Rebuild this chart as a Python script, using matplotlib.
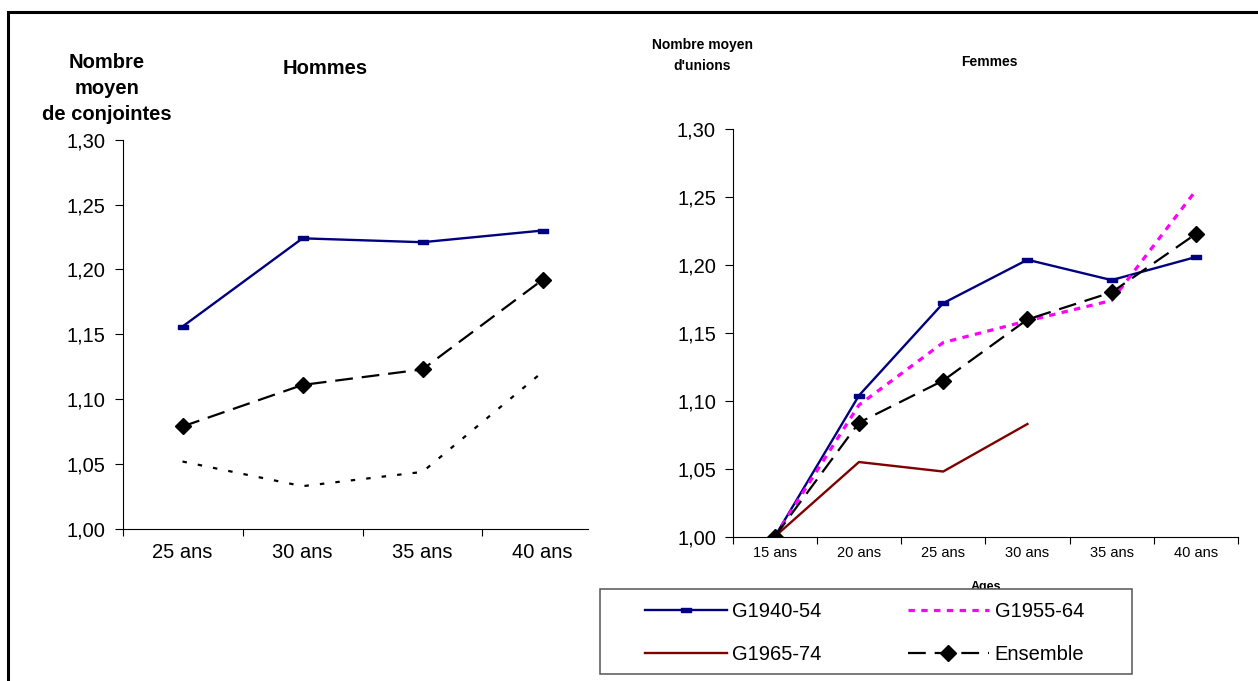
import matplotlib
matplotlib.use("Agg")
import matplotlib.pyplot as plt
from matplotlib.patches import Rectangle
from matplotlib.ticker import FuncFormatter, FixedLocator
import numpy as np

plt.rcParams['font.family'] = ['Liberation Sans', 'DejaVu Sans']

# ---------------- data ----------------
ages_h = ["25 ans", "30 ans", "35 ans", "40 ans"]
h_g1940_54 = [1.156, 1.224, 1.221, 1.230]
h_g1955_64 = [1.052, 1.033, 1.044, 1.121]
h_ensemble = [1.079, 1.111, 1.123, 1.192]

ages_f = ["15 ans", "20 ans", "25 ans", "30 ans", "35 ans", "40 ans"]
f_g1940_54 = [1.000, 1.104, 1.172, 1.204, 1.189, 1.206]
f_g1955_64 = [1.000, 1.097, 1.143, 1.159, 1.174, 1.255]
f_g1965_74 = [1.000, 1.055, 1.048, 1.083]
f_ensemble = [1.000, 1.084, 1.115, 1.160, 1.180, 1.223]

series_labels = ["G1940-54", "G1955-64", "G1965-74", "Ensemble"]
yticks = [1.00, 1.05, 1.10, 1.15, 1.20, 1.25, 1.30]

# ---------------- styles ----------------
W, H = 1258, 681
NAVY = "#000080"
DRED = "#800000"
MAG = "#FF00FF"
rect_marker = [(-1, -0.5), (1, -0.5), (1, 0.5), (-1, 0.5), (-1, -0.5)]

fig = plt.figure(figsize=(W / 100, H / 100), dpi=100)
fig.patch.set_facecolor("white")

def fx(px):
    return px / W

def fy(py):
    return 1 - py / H

comma = FuncFormatter(lambda v, p: f"{v:.2f}".replace(".", ","))

def style_axes(ax, ncat, xmax, xfs, xpad, ypad):
    ax.set_ylim(1.0, 1.30)
    ax.set_xlim(-0.5, xmax)
    for s in ("top", "right"):
        ax.spines[s].set_visible(False)
    for s in ("left", "bottom"):
        ax.spines[s].set_linewidth(0.8)
        ax.spines[s].set_color("black")
    ax.set_yticks(yticks)
    ax.yaxis.set_major_formatter(comma)
    ax.tick_params(axis="y", direction="out", length=5.5, width=0.8,
                   labelsize=14.5, pad=ypad)
    ax.set_xticks(np.arange(ncat))
    bounds = [b for b in np.arange(ncat + 1) - 0.5 if b <= xmax + 1e-6]
    ax.xaxis.set_minor_locator(FixedLocator(bounds))
    ax.tick_params(axis="x", which="major", length=0, labelsize=xfs, pad=xpad)
    ax.tick_params(axis="x", which="minor", direction="out", length=5, width=0.8)
    ax.set_facecolor("none")

# ---------------- left: Hommes ----------------
axL = fig.add_axes([fx(122.5), fy(529), fx(588) - fx(122.5), fy(139.7) - fy(529)])
xh = np.arange(len(ages_h))
axL.plot(xh, h_g1940_54, color=NAVY, lw=1.7, marker=rect_marker, ms=7,
         mfc=NAVY, mec=NAVY)
axL.plot(xh, h_g1955_64, color="black", lw=1.6, linestyle=(0, (2, 5)))
axL.plot(xh, h_ensemble, color="black", lw=1.6, linestyle=(0, (8, 4)),
         marker="D", ms=8, mfc="black", mec="black")
axL.set_xticklabels(ages_h)
style_axes(axL, len(ages_h), (588 - 122.5) / 120 - 0.5, 14.5, 10, 7)

# ---------------- right: Femmes ----------------
axR = fig.add_axes([fx(732.6), fy(536.7), fx(1238) - fx(732.6), fy(129.4) - fy(536.7)])
xf = np.arange(len(ages_f))
l1, = axR.plot(xf, f_g1940_54, color=NAVY, lw=1.7, marker=rect_marker, ms=7,
               mfc=NAVY, mec=NAVY, label=series_labels[0])
l2, = axR.plot(xf, f_g1955_64, color=MAG, lw=2.3, linestyle=(0, (2, 2)),
               label=series_labels[1])
l3, = axR.plot(xf[:len(f_g1965_74)], f_g1965_74, color=DRED, lw=1.7,
               label=series_labels[2])
l4, = axR.plot(xf, f_ensemble, color="black", lw=1.6, linestyle=(0, (8, 4)),
               marker="D", ms=8, mfc="black", mec="black", label=series_labels[3])
axR.set_xticklabels(ages_f)
style_axes(axR, len(ages_f), 5.5, 10.5, 7, 6.5)

# ---------------- texts ----------------
fig.text(fx(107), fy(88.5), "Nombre\nmoyen\nde conjointes", ha="center", va="center",
         fontsize=14.5, fontweight="bold", linespacing=1.5)
fig.text(fx(325), fy(68), "Hommes", ha="center", va="center",
         fontsize=14.5, fontweight="bold")
fig.text(fx(702), fy(55.5), "Nombre moyen\nd'unions", ha="center", va="center",
         fontsize=10, fontweight="bold", linespacing=1.65)
fig.text(fx(989), fy(62), "Femmes", ha="center", va="center",
         fontsize=10, fontweight="bold")
fig.text(fx(986), fy(587), "Ages", ha="center", va="center",
         fontsize=9, fontweight="bold", zorder=2)

# ---------------- legend ----------------
frame = Rectangle((fx(600.4), fy(674.3)), fx(1131.8) - fx(600.4), fy(588.6) - fy(674.3),
                  transform=fig.transFigure, facecolor="white", edgecolor="#555555",
                  lw=1.1, zorder=4)
fig.patches.append(frame)
leg = fig.legend([l1, l3, l2, l4],
                 [series_labels[0], series_labels[2], series_labels[1], series_labels[3]],
                 ncol=2, loc="upper left", bbox_to_anchor=(fx(645), fy(602)),
                 frameon=False, fontsize=14.5, handlelength=4.05, handletextpad=0.27,
                 columnspacing=4.28, labelspacing=1.2, borderpad=0, borderaxespad=0)
leg.set_zorder(5)

# ---------------- outer frame ----------------
outer = Rectangle((fx(8.4), -0.2), 2, fy(11.5) + 0.2, transform=fig.transFigure,
                  facecolor="none", edgecolor="black", lw=2.2, zorder=6)
fig.patches.append(outer)

fig.savefig("out.png", dpi=100)
